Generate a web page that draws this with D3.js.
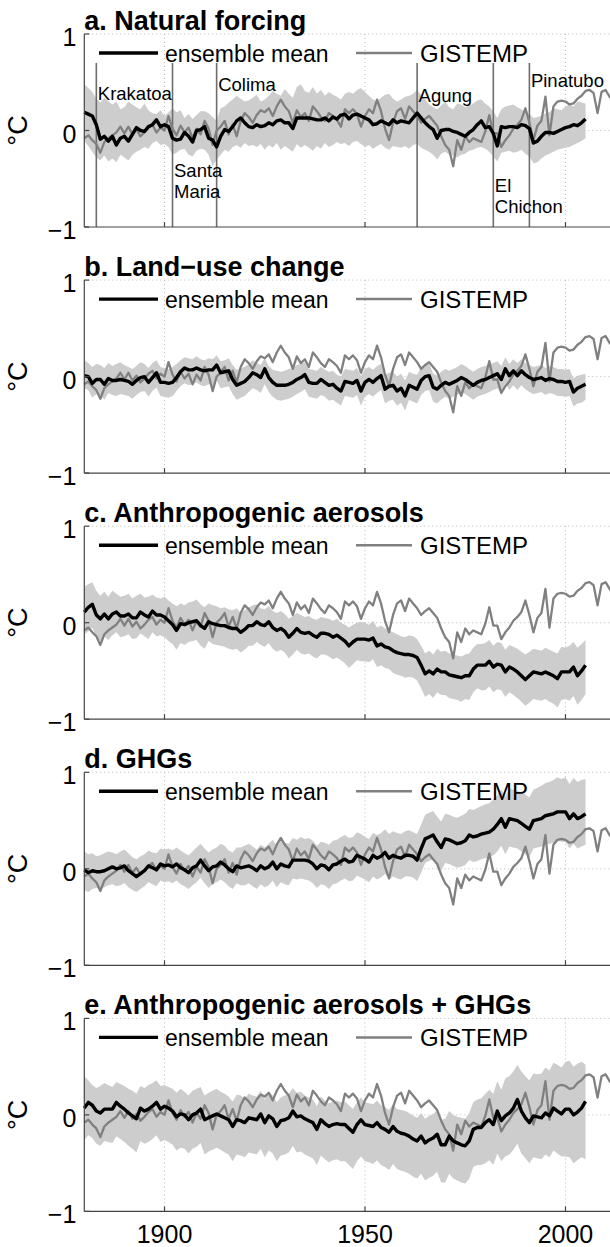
<!DOCTYPE html>
<html><head><meta charset="utf-8">
<script src="https://cdn.jsdelivr.net/npm/d3@7"></script>
<style>
body{margin:0;background:#fff}
svg{display:block}
text{font-family:"Liberation Sans",Arial,Helvetica,sans-serif;fill:#000}
</style>
</head><body>
<svg id="chart" width="610" height="1247"></svg>
<script>
// ---------------- DATA ----------------
const modelYears = d3.range(1880, 2006);   // 1880..2005
const obsYears = d3.range(1880, 2013);     // 1880..2012

const gistemp = [
-0.08,-0.05,-0.10,-0.14,-0.23,-0.12,-0.08,-0.05,-0.02,0.04,
-0.03,0.04,-0.04,0.01,-0.06,-0.02,0.03,0.06,-0.02,0.03,
0.00,0.15,0.02,-0.05,0.05,-0.02,0.03,-0.08,0.02,-0.04,
0.10,0.02,-0.15,0.00,0.04,0.10,-0.04,0.06,-0.06,0.10,
0.18,0.14,0.08,0.16,0.21,0.19,0.23,0.15,0.25,0.32,
0.25,0.20,0.08,0.21,0.14,0.18,0.10,0.25,0.20,0.14,
0.10,0.18,0.15,0.11,0.04,0.22,0.18,0.22,0.17,0.04,
0.15,0.22,0.18,0.32,0.20,0.02,-0.10,0.08,0.20,0.23,
0.12,0.25,0.20,0.15,0.08,0.12,0.15,0.10,0.05,-0.06,
-0.15,-0.20,-0.37,-0.10,-0.20,-0.06,-0.12,-0.08,-0.10,-0.12,
-0.01,0.16,-0.03,-0.03,-0.17,-0.10,-0.05,0.02,0.06,0.11,
0.23,0.08,-0.10,0.05,0.10,0.35,-0.05,0.25,0.30,0.31,
0.30,0.27,0.28,0.33,0.36,0.41,0.42,0.39,0.18,0.40,
0.42,0.35,0.30];

const panelTitles = ["a. Natural forcing","b. Land\u2212use change","c. Anthropogenic aerosols","d. GHGs","e. Anthropogenic aerosols + GHGs"];

// a. Natural forcing
const natMean = [
0.19,0.17,0.15,0.06,-0.09,-0.06,-0.11,-0.06,-0.15,-0.08,
-0.06,-0.11,-0.04,0.03,0.00,-0.01,0.04,0.06,0.11,0.04,
0.06,0.04,-0.08,-0.10,-0.09,-0.02,-0.06,-0.12,0.00,0.01,
0.04,-0.08,-0.10,-0.17,-0.06,0.01,-0.01,0.04,0.10,0.13,
0.08,0.04,0.03,0.06,0.04,0.05,0.08,0.06,0.10,0.11,
0.08,0.08,0.02,0.13,0.13,0.13,0.13,0.12,0.11,0.11,
0.13,0.10,0.14,0.12,0.16,0.17,0.12,0.16,0.17,0.15,
0.13,0.11,0.06,0.07,0.10,0.08,0.06,0.11,0.08,0.10,
0.09,0.08,0.13,0.18,0.13,0.08,0.04,0.01,-0.08,0.00,
0.01,0.01,-0.01,-0.02,-0.04,-0.06,-0.02,0.01,0.06,0.10,
0.03,0.04,-0.03,-0.16,0.04,0.03,0.04,0.04,0.03,0.06,
0.05,0.02,-0.13,-0.11,-0.06,-0.02,-0.02,-0.03,-0.01,0.01,
0.03,0.04,0.06,0.05,0.08,0.12];
const natHi = [
0.48,0.44,0.40,0.33,0.29,0.34,0.30,0.27,0.30,0.22,
0.24,0.30,0.27,0.24,0.22,0.28,0.21,0.18,0.17,0.21,
0.15,0.19,0.23,0.19,0.21,0.13,0.17,0.12,0.16,0.20,
0.20,0.18,0.14,0.10,0.23,0.25,0.29,0.32,0.36,0.33,
0.30,0.31,0.34,0.37,0.30,0.32,0.36,0.41,0.38,0.36,
0.43,0.38,0.34,0.45,0.48,0.41,0.39,0.45,0.38,0.42,
0.36,0.40,0.37,0.35,0.32,0.38,0.40,0.38,0.42,0.44,
0.40,0.36,0.32,0.30,0.34,0.37,0.38,0.33,0.30,0.32,
0.35,0.36,0.38,0.42,0.37,0.32,0.27,0.24,0.22,0.26,
0.30,0.24,0.22,0.28,0.27,0.24,0.26,0.28,0.31,0.32,
0.28,0.25,0.20,0.13,0.22,0.25,0.26,0.27,0.24,0.22,
0.19,0.17,0.13,0.14,0.15,0.18,0.19,0.23,0.22,0.21,
0.25,0.27,0.25,0.30,0.29,0.28];
const natLo = [
-0.11,-0.16,-0.22,-0.28,-0.31,-0.26,-0.32,-0.29,-0.33,-0.25,
-0.28,-0.31,-0.25,-0.22,-0.20,-0.17,-0.19,-0.13,-0.11,-0.15,
-0.14,-0.17,-0.25,-0.23,-0.20,-0.19,-0.25,-0.27,-0.21,-0.19,
-0.20,-0.25,-0.37,-0.30,-0.25,-0.20,-0.22,-0.17,-0.15,-0.18,
-0.13,-0.16,-0.15,-0.17,-0.14,-0.20,-0.15,-0.18,-0.13,-0.20,
-0.16,-0.19,-0.22,-0.14,-0.18,-0.15,-0.18,-0.21,-0.16,-0.19,
-0.13,-0.17,-0.15,-0.12,-0.14,-0.13,-0.16,-0.12,-0.11,-0.14,
-0.17,-0.15,-0.19,-0.16,-0.14,-0.18,-0.20,-0.16,-0.17,-0.18,
-0.16,-0.19,-0.15,-0.14,-0.18,-0.20,-0.22,-0.25,-0.30,-0.24,
-0.22,-0.25,-0.26,-0.28,-0.25,-0.24,-0.21,-0.20,-0.18,-0.17,
-0.19,-0.22,-0.27,-0.32,-0.23,-0.22,-0.21,-0.23,-0.22,-0.20,
-0.24,-0.27,-0.34,-0.33,-0.29,-0.26,-0.24,-0.22,-0.20,-0.19,
-0.18,-0.17,-0.15,-0.13,-0.11,-0.08];

// b. Land-use change
const luMean = [
0.01,0.00,-0.07,-0.03,-0.03,-0.08,-0.02,-0.04,-0.04,-0.03,
-0.04,-0.05,-0.08,-0.04,-0.01,0.00,-0.06,-0.01,0.04,-0.06,
-0.06,-0.07,-0.06,-0.01,0.05,0.09,0.07,0.07,0.09,0.07,
0.06,0.07,0.07,0.12,0.04,0.05,0.06,-0.03,-0.09,-0.07,
-0.05,-0.01,0.04,0.02,-0.01,0.08,-0.01,-0.06,-0.09,-0.09,
-0.09,-0.08,-0.06,-0.03,-0.01,0.02,-0.06,-0.07,-0.07,-0.03,
-0.06,-0.09,-0.08,-0.12,-0.15,-0.05,-0.06,-0.07,-0.04,-0.15,
-0.06,-0.03,-0.06,-0.02,0.01,-0.13,-0.10,-0.09,-0.15,-0.12,
-0.20,-0.09,-0.11,-0.13,-0.04,0.00,0.01,-0.11,-0.13,-0.09,
-0.06,-0.08,-0.06,-0.04,-0.01,-0.03,-0.06,-0.09,-0.06,-0.04,
-0.03,-0.01,0.01,0.03,-0.03,0.08,0.01,0.06,0.01,0.06,
0.02,-0.01,-0.03,-0.02,-0.01,-0.04,-0.02,-0.03,-0.05,-0.05,
-0.06,-0.05,-0.16,-0.12,-0.10,-0.08];
const luHi = [
0.17,0.14,0.10,0.13,0.12,0.09,0.14,0.11,0.13,0.15,
0.12,0.10,0.08,0.11,0.15,0.13,0.09,0.14,0.17,0.10,
0.09,0.08,0.10,0.13,0.17,0.20,0.19,0.18,0.21,0.18,
0.17,0.19,0.18,0.22,0.16,0.17,0.19,0.12,0.07,0.09,
0.10,0.13,0.17,0.14,0.12,0.19,0.11,0.07,0.06,0.05,
0.06,0.08,0.09,0.12,0.13,0.15,0.08,0.07,0.06,0.10,
0.07,0.05,0.06,0.02,0.00,0.08,0.07,0.06,0.09,0.01,
0.08,0.10,0.07,0.11,0.13,0.02,0.04,0.05,0.00,0.03,
-0.04,0.05,0.03,0.02,0.10,0.13,0.14,0.03,0.01,0.05,
0.08,0.06,0.08,0.10,0.13,0.11,0.08,0.05,0.08,0.10,
0.11,0.13,0.14,0.16,0.11,0.20,0.13,0.18,0.14,0.18,
0.14,0.12,0.10,0.11,0.12,0.09,0.11,0.10,0.08,0.08,
0.07,0.08,-0.02,0.01,0.02,0.03];
const luLo = [
-0.12,-0.14,-0.22,-0.18,-0.19,-0.24,-0.17,-0.19,-0.20,-0.18,
-0.19,-0.20,-0.23,-0.19,-0.16,-0.15,-0.21,-0.15,-0.11,-0.20,
-0.21,-0.22,-0.20,-0.15,-0.10,-0.07,-0.09,-0.08,-0.06,-0.09,
-0.10,-0.08,-0.09,-0.04,-0.12,-0.11,-0.10,-0.18,-0.24,-0.22,
-0.20,-0.16,-0.12,-0.14,-0.17,-0.08,-0.16,-0.21,-0.24,-0.25,
-0.24,-0.23,-0.21,-0.18,-0.16,-0.13,-0.21,-0.22,-0.23,-0.19,
-0.21,-0.25,-0.24,-0.27,-0.30,-0.20,-0.21,-0.22,-0.19,-0.30,
-0.21,-0.18,-0.21,-0.17,-0.14,-0.28,-0.25,-0.24,-0.30,-0.27,
-0.35,-0.24,-0.26,-0.28,-0.19,-0.15,-0.14,-0.26,-0.28,-0.24,
-0.21,-0.23,-0.21,-0.19,-0.16,-0.18,-0.21,-0.24,-0.21,-0.19,
-0.18,-0.16,-0.14,-0.12,-0.18,-0.07,-0.14,-0.09,-0.14,-0.09,
-0.13,-0.16,-0.18,-0.17,-0.16,-0.19,-0.17,-0.18,-0.20,-0.20,
-0.21,-0.20,-0.31,-0.28,-0.27,-0.24];

// c. Anthropogenic aerosols
const aeroMean = [
0.11,0.16,0.19,0.08,0.04,0.09,0.04,0.09,0.11,0.07,
0.07,0.09,0.05,0.05,0.11,0.08,0.06,0.12,0.08,0.08,
0.06,0.02,-0.02,-0.08,-0.01,-0.02,0.00,0.01,0.02,-0.03,
-0.06,0.01,-0.01,-0.02,-0.03,-0.03,-0.05,-0.06,-0.06,-0.10,
-0.07,-0.03,-0.03,0.01,-0.02,-0.03,0.01,-0.05,-0.08,-0.06,
-0.09,-0.15,-0.11,-0.06,-0.10,-0.11,-0.10,-0.13,-0.15,-0.11,
-0.11,-0.12,-0.15,-0.13,-0.16,-0.19,-0.24,-0.20,-0.17,-0.17,
-0.17,-0.18,-0.16,-0.24,-0.22,-0.25,-0.26,-0.29,-0.31,-0.32,
-0.33,-0.33,-0.34,-0.36,-0.44,-0.53,-0.50,-0.53,-0.48,-0.51,
-0.51,-0.54,-0.55,-0.56,-0.57,-0.55,-0.55,-0.48,-0.44,-0.44,
-0.44,-0.40,-0.46,-0.43,-0.44,-0.51,-0.46,-0.48,-0.51,-0.55,
-0.59,-0.55,-0.51,-0.52,-0.53,-0.51,-0.53,-0.55,-0.58,-0.51,
-0.51,-0.51,-0.46,-0.55,-0.50,-0.44];
const aeroHi = [
0.37,0.40,0.42,0.33,0.28,0.32,0.27,0.33,0.30,0.27,
0.28,0.30,0.25,0.28,0.30,0.26,0.27,0.29,0.26,0.25,
0.27,0.23,0.20,0.17,0.20,0.18,0.21,0.22,0.24,0.19,
0.16,0.20,0.18,0.17,0.15,0.16,0.14,0.13,0.15,0.10,
0.13,0.16,0.18,0.19,0.15,0.14,0.17,0.12,0.10,0.12,
0.09,0.04,0.07,0.10,0.08,0.06,0.07,0.04,0.03,0.06,
0.05,0.04,0.02,0.04,0.00,-0.02,-0.05,-0.02,0.00,0.01,
0.00,-0.02,0.02,-0.05,-0.03,-0.06,-0.08,-0.10,-0.12,-0.14,
-0.15,-0.13,-0.14,-0.17,-0.24,-0.32,-0.29,-0.33,-0.27,-0.30,
-0.29,-0.32,-0.33,-0.34,-0.35,-0.33,-0.32,-0.26,-0.22,-0.22,
-0.21,-0.18,-0.24,-0.20,-0.21,-0.28,-0.23,-0.25,-0.27,-0.30,
-0.33,-0.30,-0.27,-0.28,-0.29,-0.26,-0.28,-0.30,-0.32,-0.25,
-0.26,-0.24,-0.20,-0.26,-0.22,-0.18];
const aeroLo = [
-0.12,-0.09,-0.05,-0.15,-0.19,-0.14,-0.18,-0.13,-0.10,-0.15,
-0.14,-0.12,-0.17,-0.16,-0.11,-0.14,-0.17,-0.10,-0.14,-0.13,
-0.15,-0.19,-0.22,-0.28,-0.21,-0.23,-0.20,-0.19,-0.18,-0.24,
-0.27,-0.19,-0.22,-0.23,-0.24,-0.25,-0.27,-0.28,-0.27,-0.31,
-0.28,-0.24,-0.24,-0.20,-0.23,-0.25,-0.21,-0.27,-0.30,-0.28,
-0.31,-0.37,-0.33,-0.28,-0.32,-0.33,-0.32,-0.35,-0.37,-0.33,
-0.33,-0.35,-0.38,-0.36,-0.39,-0.42,-0.47,-0.43,-0.39,-0.40,
-0.40,-0.41,-0.38,-0.46,-0.44,-0.47,-0.48,-0.52,-0.54,-0.55,
-0.57,-0.56,-0.57,-0.60,-0.68,-0.77,-0.74,-0.78,-0.72,-0.75,
-0.75,-0.78,-0.79,-0.80,-0.82,-0.79,-0.80,-0.72,-0.68,-0.70,
-0.70,-0.66,-0.72,-0.69,-0.70,-0.77,-0.72,-0.75,-0.78,-0.82,
-0.86,-0.83,-0.79,-0.80,-0.81,-0.79,-0.82,-0.84,-0.88,-0.80,
-0.79,-0.81,-0.76,-0.85,-0.80,-0.74];

// d. GHGs
const ghgMean = [
-0.01,-0.04,-0.02,-0.03,-0.03,-0.02,0.00,0.02,0.00,0.01,
0.03,-0.02,-0.05,-0.08,-0.05,-0.02,0.03,0.01,-0.01,0.05,
0.03,0.04,0.02,0.05,0.01,-0.01,-0.04,0.01,0.03,0.09,
0.03,-0.02,0.02,0.03,0.07,0.04,0.00,-0.03,0.03,0.01,
0.02,0.03,0.01,-0.02,0.03,0.00,0.02,0.07,0.00,0.05,
0.03,0.02,0.09,0.09,0.09,0.09,0.08,0.05,0.00,0.04,
0.03,-0.01,0.04,0.05,0.08,0.10,0.07,0.08,0.14,0.12,
0.10,0.07,0.14,0.11,0.13,0.17,0.11,0.14,0.12,0.11,
0.14,0.14,0.13,0.09,0.21,0.31,0.33,0.35,0.28,0.22,
0.31,0.30,0.28,0.26,0.27,0.29,0.35,0.33,0.34,0.36,
0.37,0.38,0.41,0.46,0.52,0.43,0.52,0.51,0.50,0.47,
0.44,0.41,0.50,0.51,0.52,0.55,0.56,0.57,0.59,0.59,
0.59,0.52,0.57,0.52,0.54,0.57];
const ghgHi = [
0.18,0.15,0.16,0.13,0.14,0.16,0.18,0.17,0.15,0.18,
0.20,0.16,0.12,0.10,0.13,0.15,0.19,0.17,0.16,0.21,
0.20,0.21,0.19,0.22,0.19,0.16,0.14,0.18,0.22,0.26,
0.21,0.17,0.20,0.22,0.26,0.24,0.19,0.17,0.22,0.22,
0.24,0.26,0.23,0.20,0.25,0.22,0.26,0.30,0.24,0.29,
0.27,0.26,0.32,0.30,0.33,0.31,0.32,0.29,0.24,0.28,
0.27,0.25,0.29,0.30,0.33,0.35,0.32,0.33,0.38,0.36,
0.33,0.31,0.37,0.35,0.37,0.41,0.36,0.39,0.37,0.36,
0.39,0.40,0.38,0.36,0.46,0.56,0.58,0.60,0.54,0.49,
0.57,0.56,0.54,0.53,0.55,0.57,0.62,0.61,0.63,0.65,
0.67,0.68,0.72,0.76,0.82,0.75,0.83,0.82,0.81,0.79,
0.77,0.74,0.82,0.84,0.86,0.89,0.90,0.92,0.95,0.93,
0.95,0.88,0.94,0.90,0.92,0.93];
const ghgLo = [
-0.22,-0.24,-0.21,-0.20,-0.21,-0.19,-0.17,-0.16,-0.18,-0.17,
-0.15,-0.19,-0.22,-0.24,-0.21,-0.18,-0.14,-0.16,-0.18,-0.12,
-0.14,-0.13,-0.15,-0.12,-0.16,-0.18,-0.21,-0.17,-0.14,-0.09,
-0.15,-0.20,-0.16,-0.14,-0.11,-0.14,-0.18,-0.21,-0.15,-0.17,
-0.17,-0.15,-0.18,-0.21,-0.16,-0.19,-0.17,-0.12,-0.19,-0.14,
-0.16,-0.17,-0.10,-0.11,-0.10,-0.11,-0.12,-0.15,-0.20,-0.16,
-0.17,-0.21,-0.16,-0.15,-0.12,-0.10,-0.13,-0.12,-0.07,-0.09,
-0.11,-0.14,-0.08,-0.11,-0.09,-0.05,-0.11,-0.08,-0.10,-0.11,
-0.08,-0.08,-0.09,-0.13,-0.04,0.06,0.08,0.10,0.03,-0.02,
0.06,0.05,0.03,0.01,0.02,0.04,0.09,0.07,0.08,0.10,
0.11,0.12,0.14,0.18,0.24,0.15,0.23,0.22,0.21,0.18,
0.15,0.12,0.21,0.22,0.23,0.25,0.26,0.27,0.29,0.28,
0.28,0.21,0.26,0.21,0.23,0.25];

// e. Anthropogenic aerosols + GHGs
const comboMean = [
0.07,0.13,0.10,0.04,0.02,0.06,0.06,0.06,0.13,0.09,
0.06,0.02,-0.01,-0.04,0.07,0.04,0.06,0.09,0.13,0.06,
0.09,0.07,0.04,-0.02,0.01,0.00,-0.05,0.00,0.02,0.06,
-0.05,-0.03,-0.01,0.01,-0.01,-0.03,-0.05,-0.12,-0.05,-0.06,
-0.08,-0.03,-0.04,-0.05,0.01,-0.08,-0.01,-0.04,-0.12,-0.06,
-0.05,-0.03,0.04,-0.02,-0.01,-0.04,-0.06,-0.08,-0.15,-0.05,
-0.09,-0.12,-0.10,-0.09,-0.10,-0.10,-0.14,-0.18,-0.10,-0.05,
-0.10,-0.11,-0.12,-0.08,-0.13,-0.15,-0.18,-0.12,-0.17,-0.19,
-0.20,-0.22,-0.25,-0.27,-0.22,-0.29,-0.26,-0.24,-0.20,-0.31,
-0.31,-0.22,-0.27,-0.29,-0.31,-0.32,-0.27,-0.15,-0.13,-0.13,
-0.08,-0.05,-0.10,0.04,-0.06,-0.01,0.02,0.07,0.16,0.04,
-0.03,-0.08,-0.01,-0.02,-0.03,0.02,-0.01,0.07,0.04,0.01,
0.06,0.06,0.00,0.03,0.07,0.14];
const comboHi = [
0.40,0.36,0.31,0.28,0.30,0.33,0.31,0.29,0.34,0.32,
0.30,0.27,0.25,0.22,0.30,0.28,0.31,0.33,0.36,0.30,
0.31,0.29,0.27,0.23,0.27,0.24,0.20,0.25,0.27,0.29,
0.20,0.23,0.25,0.27,0.24,0.22,0.19,0.14,0.21,0.20,
0.17,0.22,0.20,0.19,0.25,0.16,0.24,0.20,0.13,0.18,
0.20,0.22,0.28,0.23,0.24,0.20,0.18,0.16,0.09,0.19,
0.15,0.12,0.14,0.15,0.13,0.14,0.10,0.06,0.13,0.18,
0.13,0.12,0.11,0.15,0.10,0.08,0.05,0.11,0.06,0.05,
0.04,0.02,-0.01,-0.03,0.02,-0.04,-0.01,0.01,0.05,-0.05,
-0.04,0.04,0.00,-0.02,-0.03,-0.04,0.02,0.13,0.16,0.17,
0.22,0.26,0.22,0.35,0.26,0.38,0.40,0.45,0.52,0.45,
0.40,0.36,0.43,0.42,0.43,0.49,0.46,0.54,0.52,0.49,
0.55,0.56,0.50,0.53,0.55,0.52];
const comboLo = [
-0.26,-0.21,-0.24,-0.30,-0.32,-0.27,-0.28,-0.29,-0.22,-0.25,
-0.28,-0.32,-0.35,-0.39,-0.27,-0.30,-0.28,-0.25,-0.21,-0.28,
-0.26,-0.28,-0.31,-0.37,-0.34,-0.35,-0.40,-0.35,-0.33,-0.29,
-0.41,-0.38,-0.36,-0.34,-0.36,-0.39,-0.41,-0.48,-0.41,-0.42,
-0.44,-0.39,-0.40,-0.41,-0.35,-0.44,-0.37,-0.40,-0.48,-0.42,
-0.41,-0.39,-0.32,-0.39,-0.38,-0.41,-0.43,-0.45,-0.52,-0.42,
-0.46,-0.49,-0.47,-0.46,-0.48,-0.48,-0.52,-0.56,-0.48,-0.43,
-0.48,-0.49,-0.51,-0.47,-0.52,-0.54,-0.57,-0.51,-0.56,-0.58,
-0.59,-0.61,-0.64,-0.66,-0.61,-0.68,-0.65,-0.63,-0.59,-0.70,
-0.70,-0.61,-0.66,-0.68,-0.70,-0.71,-0.66,-0.54,-0.52,-0.52,
-0.50,-0.47,-0.52,-0.40,-0.48,-0.43,-0.41,-0.36,-0.30,-0.40,
-0.45,-0.50,-0.44,-0.45,-0.46,-0.41,-0.44,-0.37,-0.40,-0.43,
-0.43,-0.44,-0.50,-0.47,-0.44,-0.46];

const volcanoNames = [["Krakatoa"],["Santa","Maria"],["Colima"],["Agung"],["El","Chichon"],["Pinatubo"]];
const volcanoYears = [1883, 1902, 1913, 1963, 1982, 1991];

const xTicks = [1900, 1950, 2000];
const yTicks = [-1, 0, 1];
const legendLabels = ["ensemble mean", "GISTEMP"];

const panels = [
  {title: panelTitles[0], mean: natMean, hi: natHi, lo: natLo, volcanoes: true},
  {title: panelTitles[1], mean: luMean, hi: luHi, lo: luLo},
  {title: panelTitles[2], mean: aeroMean, hi: aeroHi, lo: aeroLo},
  {title: panelTitles[3], mean: ghgMean, hi: ghgHi, lo: ghgLo},
  {title: panelTitles[4], mean: comboMean, hi: comboHi, lo: comboLo}
];

// ---------------- LAYOUT ----------------
const svg = d3.select("#chart");
const left = 84.3, right = 613.6;
const panelTop0 = 34, panelStep = 246.1, panelH = 193;
const x = d3.scaleLinear().domain([1880, 2012]).range([left, right]);

// volcano label offsets (px below panel top) per line
const volcLabelY = [[66], [142.7, 164.3], [57], [67.7], [157.7, 178.7], [52.7]];

panels.forEach((p, i) => {
  const top = panelTop0 + i * panelStep;
  const y = d3.scaleLinear().domain([-1, 1]).range([top + panelH, top]);
  const g = svg.append("g");

  // grid (dotted)
  g.selectAll(".gx").data(xTicks).join("line")
    .attr("x1", d => x(d)).attr("x2", d => x(d))
    .attr("y1", y(1)).attr("y2", y(-1))
    .attr("stroke", "#b8b8b8").attr("stroke-width", 1).attr("stroke-dasharray", "1,3");
  g.selectAll(".gy").data(yTicks.filter(v => v > -1)).join("line")
    .attr("x1", left).attr("x2", 610)
    .attr("y1", d => y(d)).attr("y2", d => y(d))
    .attr("stroke", "#b8b8b8").attr("stroke-width", 1).attr("stroke-dasharray", "1,3");

  // band
  const area = d3.area().x((d, k) => x(modelYears[k])).y0((d, k) => y(p.lo[k])).y1((d, k) => y(p.hi[k]));
  g.append("path").datum(p.mean).attr("d", area).attr("fill", "#cdcdcd");

  // volcano lines
  if (p.volcanoes) {
    volcanoYears.forEach((vy) => {
      g.append("line").attr("x1", x(vy)).attr("x2", x(vy))
        .attr("y1", y(0.7)).attr("y2", y(-1))
        .attr("stroke", "#6e6e6e").attr("stroke-width", 1.6);
    });
  }

  // GISTEMP
  const obsLine = d3.line().x((d, k) => x(obsYears[k])).y(d => y(d));
  g.append("path").datum(gistemp).attr("d", obsLine)
    .attr("fill", "none").attr("stroke", "#808080").attr("stroke-width", 2.3).attr("stroke-linejoin", "round");

  // ensemble mean
  const meanLine = d3.line().x((d, k) => x(modelYears[k])).y(d => y(d));
  g.append("path").datum(p.mean).attr("d", meanLine)
    .attr("fill", "none").attr("stroke", "#000").attr("stroke-width", 3.4).attr("stroke-linejoin", "round");

  // volcano labels
  if (p.volcanoes) {
    volcanoYears.forEach((vy, k) => {
      volcanoNames[k].forEach((nm, j) => {
        g.append("text").attr("x", x(vy) + 1.5).attr("y", top + volcLabelY[k][j])
          .attr("font-size", 18.5).text(nm);
      });
    });
  }

  // axes: left and bottom solid
  g.append("line").attr("x1", left).attr("x2", left).attr("y1", y(1)).attr("y2", y(-1))
    .attr("stroke", "#444").attr("stroke-width", 1.2);
  g.append("line").attr("x1", left).attr("x2", 610).attr("y1", y(-1)).attr("y2", y(-1))
    .attr("stroke", "#444").attr("stroke-width", 1.2);
  // ticks (inward)
  g.selectAll(".ty").data(yTicks).join("line")
    .attr("x1", left).attr("x2", left + 5).attr("y1", d => y(d)).attr("y2", d => y(d))
    .attr("stroke", "#444").attr("stroke-width", 1.2);
  g.selectAll(".tx").data(xTicks).join("line")
    .attr("x1", d => x(d)).attr("x2", d => x(d)).attr("y1", y(-1)).attr("y2", y(-1) - 5)
    .attr("stroke", "#444").attr("stroke-width", 1.2);

  // y tick labels
  g.selectAll(".yl").data(yTicks).join("text")
    .attr("x", left - 8).attr("y", d => y(d) + 3)
    .attr("text-anchor", "end").attr("dominant-baseline", "central")
    .attr("font-size", 25)
    .text(d => d < 0 ? "\u2212" + Math.abs(d) : String(d));

  // y axis label
  g.append("text").attr("transform", `translate(27,${y(0)}) rotate(-90)`)
    .attr("text-anchor", "middle").attr("font-size", 27).text("\u00B0C");

  // title
  g.append("text").attr("x", left).attr("y", top - 4)
    .attr("font-size", 27).attr("font-weight", "bold").text(p.title);

  // legend
  const ly = top + 19;
  g.append("line").attr("x1", 99).attr("x2", 158).attr("y1", ly).attr("y2", ly)
    .attr("stroke", "#000").attr("stroke-width", 3.4);
  g.append("text").attr("x", 165).attr("y", ly + 8.5).attr("font-size", 23).text(legendLabels[0]);
  g.append("line").attr("x1", 356).attr("x2", 412).attr("y1", ly).attr("y2", ly)
    .attr("stroke", "#808080").attr("stroke-width", 2.5);
  g.append("text").attr("x", 420).attr("y", ly + 8.5).attr("font-size", 24).text(legendLabels[1]);

  // x tick labels only under last panel
  if (i === panels.length - 1) {
    g.selectAll(".xl").data(xTicks).join("text")
      .attr("x", d => x(d)).attr("y", y(-1) + 23)
      .attr("text-anchor", "middle").attr("dominant-baseline", "central")
      .attr("font-size", 25).text(d => d);
  }
});
</script>
</body></html>
